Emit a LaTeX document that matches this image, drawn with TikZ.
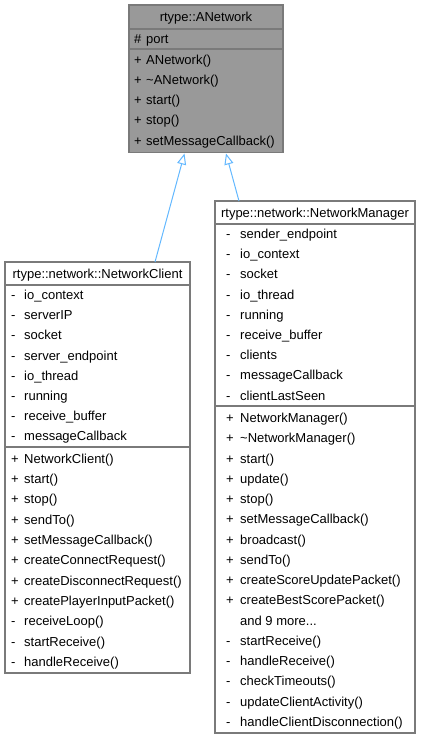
\documentclass[tikz,border=0pt]{standalone}
\usepackage{fontspec}
\setmainfont{Liberation Sans}
\usetikzlibrary{arrows.meta}
\definecolor{bordergray}{HTML}{7A7A7A}
\definecolor{fillgray}{HTML}{999999}
\definecolor{arrowblue}{HTML}{63B8FF}
\newcommand\andmoretxt{and 9 more...}
\begin{document}
\begin{tikzpicture}[x=1pt,y=-1pt,
  box/.style={draw=bordergray,line width=1.3pt},
  sep/.style={draw=bordergray,line width=1.2pt},
  txt/.style={anchor=base west,inner sep=0pt,font=\fontsize{13}{15}\selectfont},
  ttl/.style={anchor=base,inner sep=0pt,font=\fontsize{13}{15}\selectfont},
  inh/.style={draw=arrowblue,line width=1pt,-{Triangle[open,length=11pt,width=9pt,fill=white]}}]
\useasboundingbox (0,0) rectangle (421,740);
% ---------- ANetwork ----------
\path[box,fill=fillgray] (129,5) rectangle (283,152.5);
\node[inner sep=0pt] (anet) at (206,78.75) [minimum width=154pt,minimum height=147.5pt] {};
\draw[sep] (129,29) -- (283,29);
\draw[sep] (129,49) -- (283,49);
\node[ttl] (anett) at (206,21.5) {rtype::ANetwork};
\node[txt] (anp1) at (134,43.5) {\#};
\node[txt] (anp2) at (146,43.5) {port};
\foreach \s/\t [count=\i from 0] in {+/ANetwork(),+/\textasciitilde ANetwork(),+/start(),+/stop(),+/setMessageCallback()}{
  \node[txt] (ams\i) at (134,{64+20.3*\i}) {\s};
  \node[txt] (amt\i) at (146,{64+20.3*\i}) {\t};
}
% ---------- NetworkClient ----------
\path[box,fill=white] (5,262) rectangle (190,673);
\node[inner sep=0pt,minimum width=185pt,minimum height=411pt] (ncl) at (97.5,467.5) {};
\draw[sep] (5,285) -- (190,285);
\draw[sep] (5,447) -- (190,447);
\node[ttl] (nclt) at (97.5,278.5) {rtype::network::NetworkClient};
\foreach \t [count=\i from 0] in {io\_context,serverIP,socket,server\_endpoint,io\_thread,running,receive\_buffer,messageCallback}{
  \node[txt] (cas\i) at (11,{299.5+20.2*\i}) {-};
  \node[txt] (cat\i) at (24,{299.5+20.2*\i}) {\t};
}
\foreach \s/\t [count=\i from 0] in {+/NetworkClient(),+/start(),+/stop(),+/sendTo(),+/setMessageCallback(),+/createConnectRequest(),+/createDisconnectRequest(),+/createPlayerInputPacket(),-/receiveLoop(),-/startReceive(),-/handleReceive()}{
  \node[txt] (cms\i) at (11,{463+20.35*\i}) {\s};
  \node[txt] (cmt\i) at (24,{463+20.35*\i}) {\t};
}
% ---------- NetworkManager ----------
\path[box,fill=white] (215,201) rectangle (415,733);
\node[inner sep=0pt,minimum width=200pt,minimum height=532pt] (nmg) at (315,467) {};
\draw[sep] (215,224) -- (415,224);
\draw[sep] (215,406) -- (415,406);
\node[ttl] (nmgt) at (315,217.5) {rtype::network::NetworkManager};
\foreach \t [count=\i from 0] in {sender\_endpoint,io\_context,socket,io\_thread,running,receive\_buffer,clients,messageCallback,clientLastSeen}{
  \node[txt] (mas\i) at (226,{238.5+20.2*\i}) {-};
  \node[txt] (mat\i) at (240,{238.5+20.2*\i}) {\t};
}
\foreach \s/\t [count=\i from 0] in {+/NetworkManager(),+/\textasciitilde NetworkManager(),+/start(),+/update(),+/stop(),+/setMessageCallback(),+/broadcast(),+/sendTo(),+/createScoreUpdatePacket(),+/createBestScorePacket(),{}/\andmoretxt,-/startReceive(),-/handleReceive(),-/checkTimeouts(),-/updateClientActivity(),-/handleClientDisconnection()}{
  \node[txt] (mms\i) at (226,{422.5+20.25*\i}) {\s};
  \node[txt] (mmt\i) at (240,{422.5+20.25*\i}) {\t};
}
% ---------- inheritance ----------
\coordinate (c1) at (155,262);
\coordinate (a1) at (184.5,153.5);
\coordinate (c2) at (239,201);
\coordinate (a2) at (226,153.5);
\draw[inh] (c1) -- (a1);
\draw[inh] (c2) -- (a2);
\end{tikzpicture}
\end{document}
